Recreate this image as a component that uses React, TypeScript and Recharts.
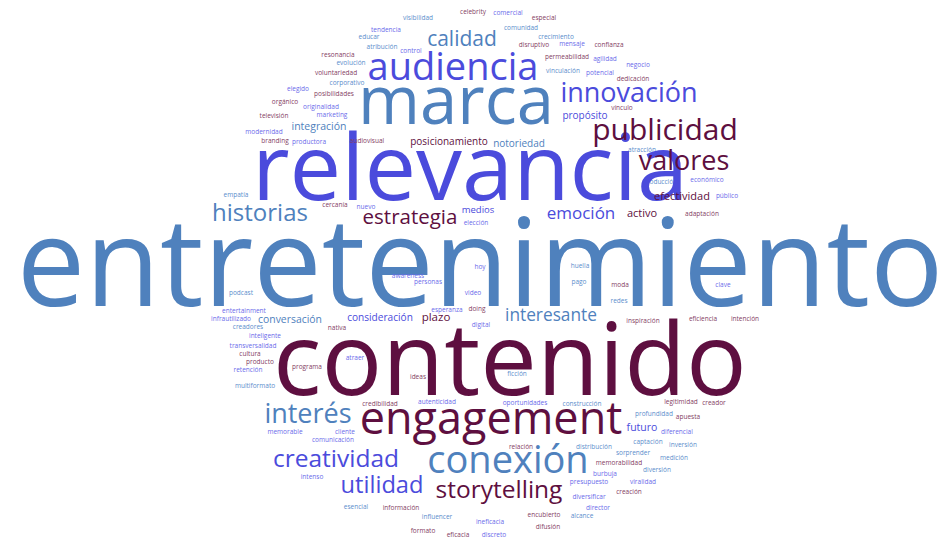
import React from 'react';
import { ScatterChart, Scatter, XAxis, YAxis } from 'recharts';

// Word cloud terms: [word, cloudX, cloudY, weight]
type Term = [string, number, number, number];

const steelTerms: Term[] = [
  ['entretenimiento', 480, 306, 122],
  ['marca', 456, 124, 67],
  ['conexión', 508, 473, 38],
  ['calidad', 462, 46, 21],
  ['historias', 260, 221, 24],
  ['interés', 308, 423, 27],
  ['interesante', 551, 321, 17.3],
  ['conversación', 290, 323, 10.4],
  ['integración', 319, 130, 10.5],
  ['notoriedad', 519, 147, 10],
  ['visibilidad', 418, 20, 6.5],
  ['educar', 369, 39, 6.5],
  ['atribución', 382, 49, 6.5],
  ['evolución', 351, 65, 6.5],
  ['corporativo', 347, 85, 6.5],
  ['comunidad', 521, 30, 6.5],
  ['crecimiento', 556, 39, 6.5],
  ['vinculación', 563, 73, 6.5],
  ['atracción', 642, 152, 6.5],
  ['producción', 660, 184, 6.5],
  ['huella', 580, 268, 6.5],
  ['empatía', 236, 197, 6.5],
  ['pago', 579, 284, 6.5],
  ['redes', 619, 303, 6.5],
  ['ficción', 517, 376, 6.5],
  ['podcast', 241, 295, 6.5],
  ['creadores', 248, 329, 6.5],
  ['multiformato', 255, 388, 6.5],
  ['esencial', 356, 509, 6.5],
  ['influencer', 437, 519, 6.5],
  ['construcción', 582, 406, 6.5],
  ['profundidad', 654, 416, 6.5],
  ['captación', 648, 444, 6.5],
  ['inversión', 683, 447, 6.5],
  ['distribución', 594, 449, 6.5],
  ['sorprender', 633, 455, 6.5],
  ['medición', 674, 460, 6.5],
  ['diversión', 657, 472, 6.5],
  ['alcance', 582, 518, 6.5],
];

const violetTerms: Term[] = [
  ['relevancia', 470, 200, 92],
  ['audiencia', 453, 80, 38],
  ['innovación', 629, 102, 27],
  ['creatividad', 336, 467, 24.5],
  ['utilidad', 382, 493, 23.7],
  ['emoción', 581, 219, 17],
  ['consideración', 380, 321, 10.1],
  ['medios', 478, 213, 9.5],
  ['futuro', 642, 431, 10.5],
  ['propósito', 585, 119, 10],
  ['tendencia', 386, 32, 6.5],
  ['control', 411, 53, 6.5],
  ['elegido', 298, 91, 6.5],
  ['originalidad', 321, 109, 6.5],
  ['marketing', 332, 117, 6.5],
  ['modernidad', 264, 134, 6.5],
  ['productora', 309, 144, 6.5],
  ['comercial', 508, 15, 6.5],
  ['mensaje', 572, 46, 6.5],
  ['agilidad', 605, 61, 6.5],
  ['negocio', 638, 67, 6.5],
  ['potencial', 600, 75, 6.5],
  ['económico', 707, 182, 6.5],
  ['público', 727, 198, 6.5],
  ['nuevo', 366, 209, 6.5],
  ['elección', 476, 225, 6.5],
  ['hoy', 480, 269, 6.5],
  ['awareness', 408, 278, 6.5],
  ['personas', 428, 284, 6.5],
  ['video', 473, 295, 6.5],
  ['esperanza', 447, 312, 6.5],
  ['digital', 481, 327, 6.5],
  ['clave', 723, 287, 6.5],
  ['entertainment', 244, 313, 6.5],
  ['infrautilizado', 231, 321, 6.5],
  ['inteligente', 265, 338, 6.5],
  ['transversalidad', 253, 348, 6.5],
  ['retención', 248, 372, 6.5],
  ['atraer', 355, 360, 6.5],
  ['autenticidad', 437, 404, 6.5],
  ['memorable', 285, 434, 6.5],
  ['cliente', 345, 434, 6.5],
  ['comunicación', 333, 442, 6.5],
  ['intenso', 312, 479, 6.5],
  ['oportunidades', 525, 405, 6.5],
  ['diferencial', 677, 434, 6.5],
  ['burbuja', 605, 476, 6.5],
  ['presupuesto', 589, 484, 6.5],
  ['viralidad', 643, 484, 6.5],
  ['diversificar', 589, 499, 6.5],
  ['director', 598, 510, 6.5],
  ['ineficacia', 490, 524, 6.5],
  ['discreto', 494, 537, 6.5],
];

const maroonTerms: Term[] = [
  ['contenido', 510, 395, 101],
  ['engagement', 491, 434, 45],
  ['publicidad', 665, 140, 30],
  ['valores', 684, 170, 27],
  ['storytelling', 499, 498, 24.5],
  ['estrategia', 410, 224, 20.5],
  ['plazo', 436, 321, 11.5],
  ['efectividad', 682, 200, 11],
  ['activo', 642, 217, 11],
  ['posicionamiento', 449, 145, 10],
  ['celebrity', 473, 14, 6.5],
  ['resonancia', 338, 57, 6.5],
  ['voluntariedad', 336, 75, 6.5],
  ['posibilidades', 334, 96, 6.5],
  ['orgánico', 285, 104, 6.5],
  ['televisión', 274, 118, 6.5],
  ['branding', 275, 143, 6.5],
  ['audiovisual', 367, 143, 6.5],
  ['especial', 544, 20, 6.5],
  ['disruptivo', 534, 47, 6.5],
  ['confianza', 609, 47, 6.5],
  ['permeabilidad', 567, 59, 6.5],
  ['dedicación', 633, 81, 6.5],
  ['vínculo', 622, 110, 6.5],
  ['adaptación', 702, 216, 6.5],
  ['cercanía', 335, 207, 6.5],
  ['doing', 477, 311, 6.5],
  ['moda', 620, 287, 6.5],
  ['inspiración', 643, 323, 6.5],
  ['eficiencia', 703, 321, 6.5],
  ['intención', 745, 321, 6.5],
  ['nativa', 337, 330, 6.5],
  ['cultura', 250, 356, 6.5],
  ['producto', 260, 364, 6.5],
  ['programa', 307, 369, 6.5],
  ['ideas', 418, 379, 6.5],
  ['credibilidad', 380, 406, 6.5],
  ['información', 401, 510, 6.5],
  ['formato', 423, 533, 6.5],
  ['eficacia', 458, 537, 6.5],
  ['legitimidad', 681, 404, 6.5],
  ['creador', 714, 405, 6.5],
  ['apuesta', 688, 419, 6.5],
  ['relación', 521, 449, 6.5],
  ['memorabilidad', 619, 465, 6.5],
  ['creación', 629, 494, 6.5],
  ['encubierto', 544, 517, 6.5],
  ['difusión', 548, 529, 6.5],
];

const toRows = (terms: Term[]) =>
  terms.map(([word, x, y, weight]) => ({ word, x, y, weight }));

const FONT = "'Open Sans', 'Noto Sans', sans-serif";

const makeShape = (color: string, lightColor: string) => (props: any) => {
  const { cx, cy, payload } = props;
  if (cx == null || cy == null || !payload) return <g />;
  const w = payload.weight as number;
  return (
    <text
      x={cx}
      y={cy}
      textAnchor="middle"
      fontSize={w}
      fontFamily={FONT}
      fill={w < 9 ? lightColor : color}
    >
      {payload.word}
    </text>
  );
};

export default function App() {
  return (
    <div style={{ position: 'absolute', left: 0, top: 0, width: 950, height: 538, background: '#fff' }}>
      <ScatterChart width={950} height={538} margin={{ top: 0, right: 0, bottom: 0, left: 0 }}>
        <XAxis type="number" dataKey="x" domain={[0, 950]} hide />
        <YAxis type="number" dataKey="y" domain={[0, 538]} reversed hide />
        <Scatter data={toRows(steelTerms)} isAnimationActive={false} shape={makeShape('#4f81bd', '#5b8dcc')} />
        <Scatter data={toRows(violetTerms)} isAnimationActive={false} shape={makeShape('#4b4bdc', '#6a6aea')} />
        <Scatter data={toRows(maroonTerms)} isAnimationActive={false} shape={makeShape('#5e0f40', '#84405f')} />
      </ScatterChart>
    </div>
  );
}
